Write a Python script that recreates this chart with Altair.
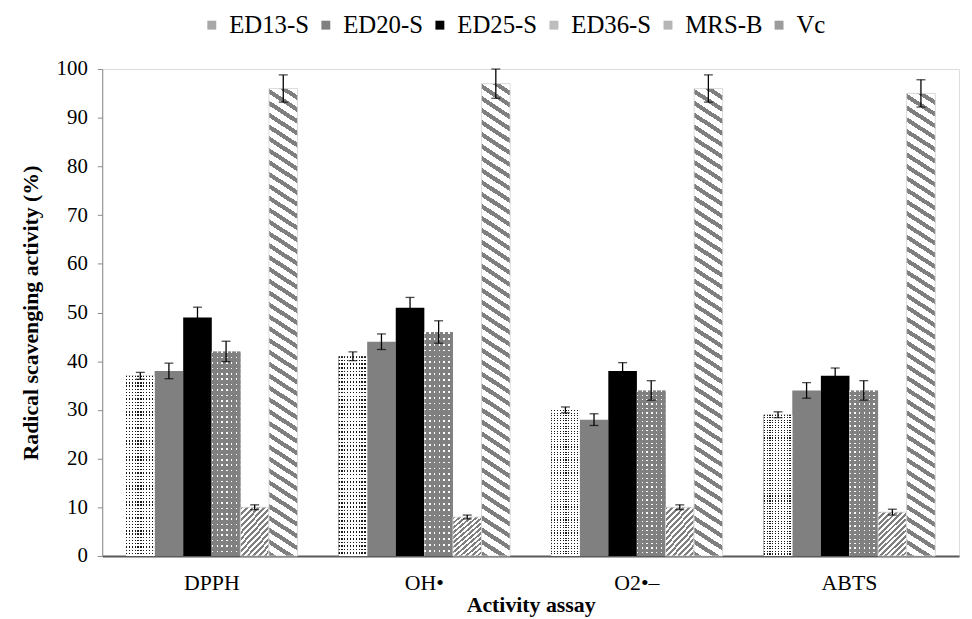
import altair as alt
import pandas as pd

assays = ["DPPH", "OH•", "O2•–", "ABTS"]
series = ["ED13-S", "ED20-S", "ED25-S", "ED36-S", "MRS-B", "Vc"]

ed13_vals = [37, 41, 30, 29]
ed20_vals = [38, 44, 28, 34]
ed25_vals = [49, 51, 38, 37]
ed36_vals = [42, 46, 34, 34]
mrsb_vals = [10, 8, 10, 9]
vc_vals = [96, 97, 96, 95]

ed13_err = [0.7, 0.9, 0.6, 0.6]
ed20_err = [1.6, 1.6, 1.2, 1.6]
ed25_err = [2.1, 2.1, 1.7, 1.6]
ed36_err = [2.1, 2.3, 2.0, 2.0]
mrsb_err = [0.5, 0.4, 0.5, 0.6]
vc_err = [2.8, 3.0, 2.8, 2.8]

legend_colors = ["#a8a8a8", "#808080", "#000000", "#bdbdbd", "#b5b5b5", "#9c9c9c"]

vals = [ed13_vals, ed20_vals, ed25_vals, ed36_vals, mrsb_vals, vc_vals]
errs = [ed13_err, ed20_err, ed25_err, ed36_err, mrsb_err, vc_err]
rows = []
for s, vlist, elist in zip(series, vals, errs):
    for a, v, e in zip(assays, vlist, elist):
        rows.append({"assay": a, "series": s, "value": v, "err": e})
df = pd.DataFrame(rows)

FONT = "Liberation Serif"
W, H = 864, 491
BAR_W = 28.8
PX = H / 100.0


def stops_periodic(c1, c2, n, frac):
    st = []
    for i in range(n):
        o = i / n
        m = (i + frac) / n
        e = (i + 1) / n
        st += [{"offset": round(o, 5), "color": c1},
               {"offset": round(m, 5), "color": c1},
               {"offset": round(m, 5), "color": c2},
               {"offset": round(e, 5), "color": c2}]
    return st


def diag_grad(c1, c2, w, h, slope, vperiod, frac, down=True):
    k = h / (slope * w)
    dx = (1 + k) / (1 + k * k)
    n = max(1, round((slope * w + h) / vperiod))
    if down:  # "\" stripes
        y1, x2, y2 = 1, dx, 1 - k * dx
    else:      # "/" stripes
        y1, x2, y2 = 0, dx, k * dx
    return {"gradient": "linear", "x1": 0, "y1": y1, "x2": round(x2, 5),
            "y2": round(y2, 5), "stops": stops_periodic(c1, c2, n, frac)}


def lin_grad(c1, c2, n, frac, vertical_stripes=True):
    if vertical_stripes:
        return {"gradient": "linear", "x1": 0, "y1": 0, "x2": 1, "y2": 0,
                "stops": stops_periodic(c1, c2, n, frac)}
    return {"gradient": "linear", "x1": 0, "y1": 0, "x2": 0, "y2": 1,
            "stops": stops_periodic(c1, c2, n, frac)}


xenc = alt.X("assay:N", sort=assays,
             scale=alt.Scale(paddingInner=0.193, paddingOuter=0.112),
             axis=alt.Axis(title="Activity assay", labelAngle=0, ticks=False,
                           labelFont=FONT, labelFontSize=22, labelColor="black",
                           labelPadding=17, titleFont=FONT, titleFontSize=22,
                           titleFontWeight="bold", titleColor="black",
                           titlePadding=1, domainColor="#595959",
                           domainWidth=2))
yenc = alt.Y("value:Q", scale=alt.Scale(domain=[0, 100]),
             axis=alt.Axis(title="Radical scavenging activity (%)",
                           values=list(range(0, 101, 10)), grid=False,
                           labelFont=FONT, labelFontSize=21, labelColor="black",
                           labelPadding=10, tickSize=5, tickColor="#8c8c8c",
                           domainColor="#8c8c8c", titleFont=FONT,
                           titleFontSize=22, titleFontWeight="bold",
                           titleColor="black", titlePadding=14))
xoff = alt.XOffset("series:N", sort=series, scale=alt.Scale(domain=series))

base = alt.Chart(df).encode(x=xenc, xOffset=xoff)

bars = base.mark_bar().encode(
    y=yenc,
    color=alt.Color("series:N", sort=series,
                    scale=alt.Scale(domain=series, range=legend_colors),
                    legend=alt.Legend(title=None, orient="none", direction="horizontal",
                                      legendX=98, legendY=-57, symbolType="square",
                                      symbolSize=81, symbolStrokeWidth=0,
                                      labelFont=FONT, labelFontSize=25,
                                      labelColor="black", columnPadding=4,
                                      labelOffset=5)),
)


def pattern_layer(name, fill, stroke=None):
    kw = {"fill": fill}
    if stroke:
        kw["stroke"] = stroke
        kw["strokeWidth"] = 0.8
    return base.transform_filter(alt.datum.series == name).mark_bar(**kw).encode(
        y=alt.Y("value:Q"))


vc_h = sum(vc_vals) / 4 * PX
mrs_h = sum(mrsb_vals) / 4 * PX
ed13_h = sum(ed13_vals) / 4 * PX
ed36_h = sum(ed36_vals) / 4 * PX

vc_layer = pattern_layer("Vc", diag_grad("#7f7f7f", "#ffffff", BAR_W, vc_h, 0.65, 12, 0.42, True), "#d9d9d9")
mrs_layer = pattern_layer("MRS-B", diag_grad("#7f7f7f", "#ffffff", BAR_W, mrs_h, 1.0, 5.5, 0.5, False), "#d9d9d9")
ed13_cols = pattern_layer("ED13-S", lin_grad("#1a1a1a", "#ffffff", 10, 0.42, True))
ed13_rows = pattern_layer("ED13-S", lin_grad("rgba(255,255,255,0)", "#ffffff", max(1, round(ed13_h / 3.0)), 0.42, False))
ed36_cols = pattern_layer("ED36-S", lin_grad("#ffffff", "#808080", 6, 0.3, True))
ed36_rows = pattern_layer("ED36-S", lin_grad("rgba(128,128,128,0)", "#808080", max(1, round(ed36_h / 5.0)), 0.3, False))

err_base = base.transform_calculate(
    lo="datum.value - datum.err", hi="datum.value + datum.err")
err_rule = err_base.mark_rule(color="black", strokeWidth=1.3).encode(
    y=alt.Y("lo:Q"), y2="hi:Q")
cap_lo = err_base.mark_tick(color="black", thickness=1.3, size=9, orient="horizontal").encode(
    y=alt.Y("lo:Q"))
cap_hi = err_base.mark_tick(color="black", thickness=1.3, size=9, orient="horizontal").encode(
    y=alt.Y("hi:Q"))

chart = alt.layer(bars, ed13_cols, ed13_rows, ed36_cols, ed36_rows, mrs_layer,
                  vc_layer, err_rule, cap_lo, cap_hi).properties(
    width=W, height=H,
    autosize=alt.AutoSizeParams(type="none"),
    padding={"left": 95, "top": 59, "right": 5, "bottom": 61},
).configure_view(stroke="#7f7f7f", strokeWidth=1).configure(
    background="white", font=FONT)

chart.save("out.html", embed_options={"renderer": "svg", "actions": False})
